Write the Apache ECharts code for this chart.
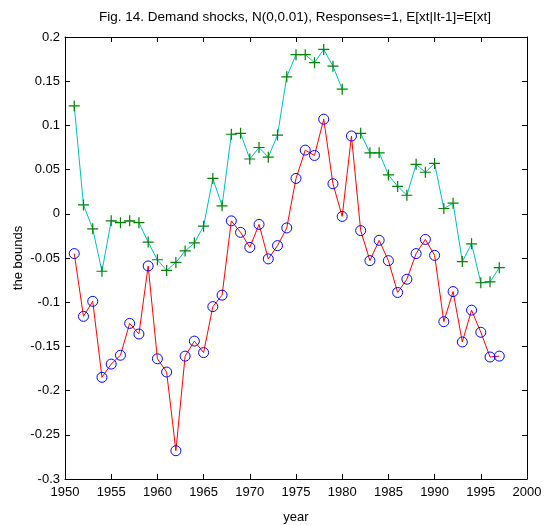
<!DOCTYPE html>
<html><head><meta charset="utf-8">
<script src="https://cdn.jsdelivr.net/npm/echarts@6/dist/echarts.min.js"></script>
<style>html,body{margin:0;padding:0;background:#fff}#c{width:544px;height:525px}</style>
</head><body><div id="c"></div>
<script>
var years = [];
for (var y = 1951; y <= 1997; y++) years.push(y);
var upper = [0.122,0.010,-0.017,-0.065,-0.008,-0.010,-0.008,-0.010,-0.032,-0.052,
 -0.064,-0.055,-0.042,-0.033,-0.014,0.040,0.009,0.090,0.091,0.062,
 0.075,0.064,0.089,0.155,0.180,0.180,0.171,0.186,0.167,0.141,
 null,0.091,0.069,0.069,0.044,0.031,0.021,0.056,0.047,0.057,
 0.006,0.012,-0.054,-0.034,-0.078,-0.077,-0.061];
var lower = [-0.045,-0.116,-0.099,-0.185,-0.170,-0.160,-0.124,-0.136,-0.059,-0.164,
 -0.179,-0.268,-0.161,-0.144,-0.157,-0.105,-0.092,-0.008,-0.021,-0.038,
 -0.012,-0.051,-0.036,-0.016,0.040,0.072,0.066,0.107,0.034,-0.003,
 0.088,-0.019,-0.053,-0.030,-0.053,-0.089,-0.074,-0.045,-0.029,-0.047,
 -0.122,-0.088,-0.145,-0.109,-0.134,-0.162,-0.161];
var xTicks = [1950,1955,1960,1965,1970,1975,1980,1985,1990,1995,2000];
var yTicks = [-0.3,-0.25,-0.2,-0.15,-0.1,-0.05,0,0.05,0.1,0.15,0.2];

function pairs(v){ return years.map(function(y,i){ return [y, v[i]]; }); }
var font = 'Liberation Sans, Arial, sans-serif';
var plus = 'path://M4.45,0H5.55V10H4.45ZM0,4.45H10V5.55H0Z';
var chart = echarts.init(document.getElementById('c'));
chart.setOption({
  animation: false,
  title: { text: 'Fig. 14. Demand shocks, N(0,0.01), Responses=1, E[xt|It-1]=E[xt]',
    left: 290, textAlign: 'center', top: 5,
    textStyle: { fontFamily: font, fontSize: 13.5, fontWeight: 'normal', color: '#000' } },
  grid: { left: 65, right: 17, top: 37, bottom: 46, outerBoundsMode: 'none', containLabel: false },
  xAxis: [{
    type: 'value', min: 1950, max: 2000, interval: 5,
    name: 'year', nameLocation: 'middle', nameGap: 32, nameMoveOverlap: false,
    nameTextStyle: { fontFamily: font, fontSize: 13, color: '#000' },
    axisLine: { onZero: false, lineStyle: { color: '#000', width: 1 } },
    axisTick: { inside: true, length: 5, lineStyle: { color: '#000' } },
    axisLabel: { fontFamily: font, fontSize: 13, color: '#000', margin: 7,
      formatter: function(v){ return xTicks.indexOf(v) >= 0 ? String(v) : ''; } },
    splitLine: { show: false }
  },{
    type: 'value', min: 1950, max: 2000, interval: 5, position: 'top',
    axisLine: { onZero: false, lineStyle: { color: '#000', width: 1 } },
    axisTick: { inside: true, length: 5, lineStyle: { color: '#000' } },
    axisLabel: { show: false }, splitLine: { show: false }
  }],
  yAxis: [{
    type: 'value', min: -0.3, max: 0.2, interval: 0.05,
    name: 'the bounds', nameLocation: 'middle', nameGap: 40, nameMoveOverlap: false,
    nameTextStyle: { fontFamily: font, fontSize: 13, color: '#000' },
    axisLine: { show: true, onZero: false, lineStyle: { color: '#000', width: 1 } },
    axisTick: { show: true, inside: true, length: 5, lineStyle: { color: '#000' } },
    axisLabel: { fontFamily: font, fontSize: 13, color: '#000', margin: 5,
      formatter: function(v){
        var r = Math.round(v*100)/100;
        for (var i=0;i<yTicks.length;i++) if (Math.abs(yTicks[i]-r)<1e-9) return String(yTicks[i]);
        return '';
      } },
    splitLine: { show: false }
  },{
    type: 'value', min: -0.3, max: 0.2, interval: 0.05, position: 'right',
    axisLine: { show: true, onZero: false, lineStyle: { color: '#000', width: 1 } },
    axisTick: { show: true, inside: true, length: 5, lineStyle: { color: '#000' } },
    axisLabel: { show: false }, splitLine: { show: false }
  }],
  series: [{
    type: 'line', data: pairs(upper), connectNulls: false,
    lineStyle: { color: '#00bfbf', width: 1 },
    symbol: plus, symbolSize: 11, showAllSymbol: true,
    itemStyle: { color: '#008000', borderWidth: 0 }
  },{
    type: 'line', data: pairs(lower),
    lineStyle: { color: '#ff0000', width: 1 },
    symbol: 'circle', symbolSize: 10, showAllSymbol: true,
    itemStyle: { color: 'rgba(0,0,0,0)', borderColor: '#0000ff', borderWidth: 1 }
  }]
});
</script></body></html>
